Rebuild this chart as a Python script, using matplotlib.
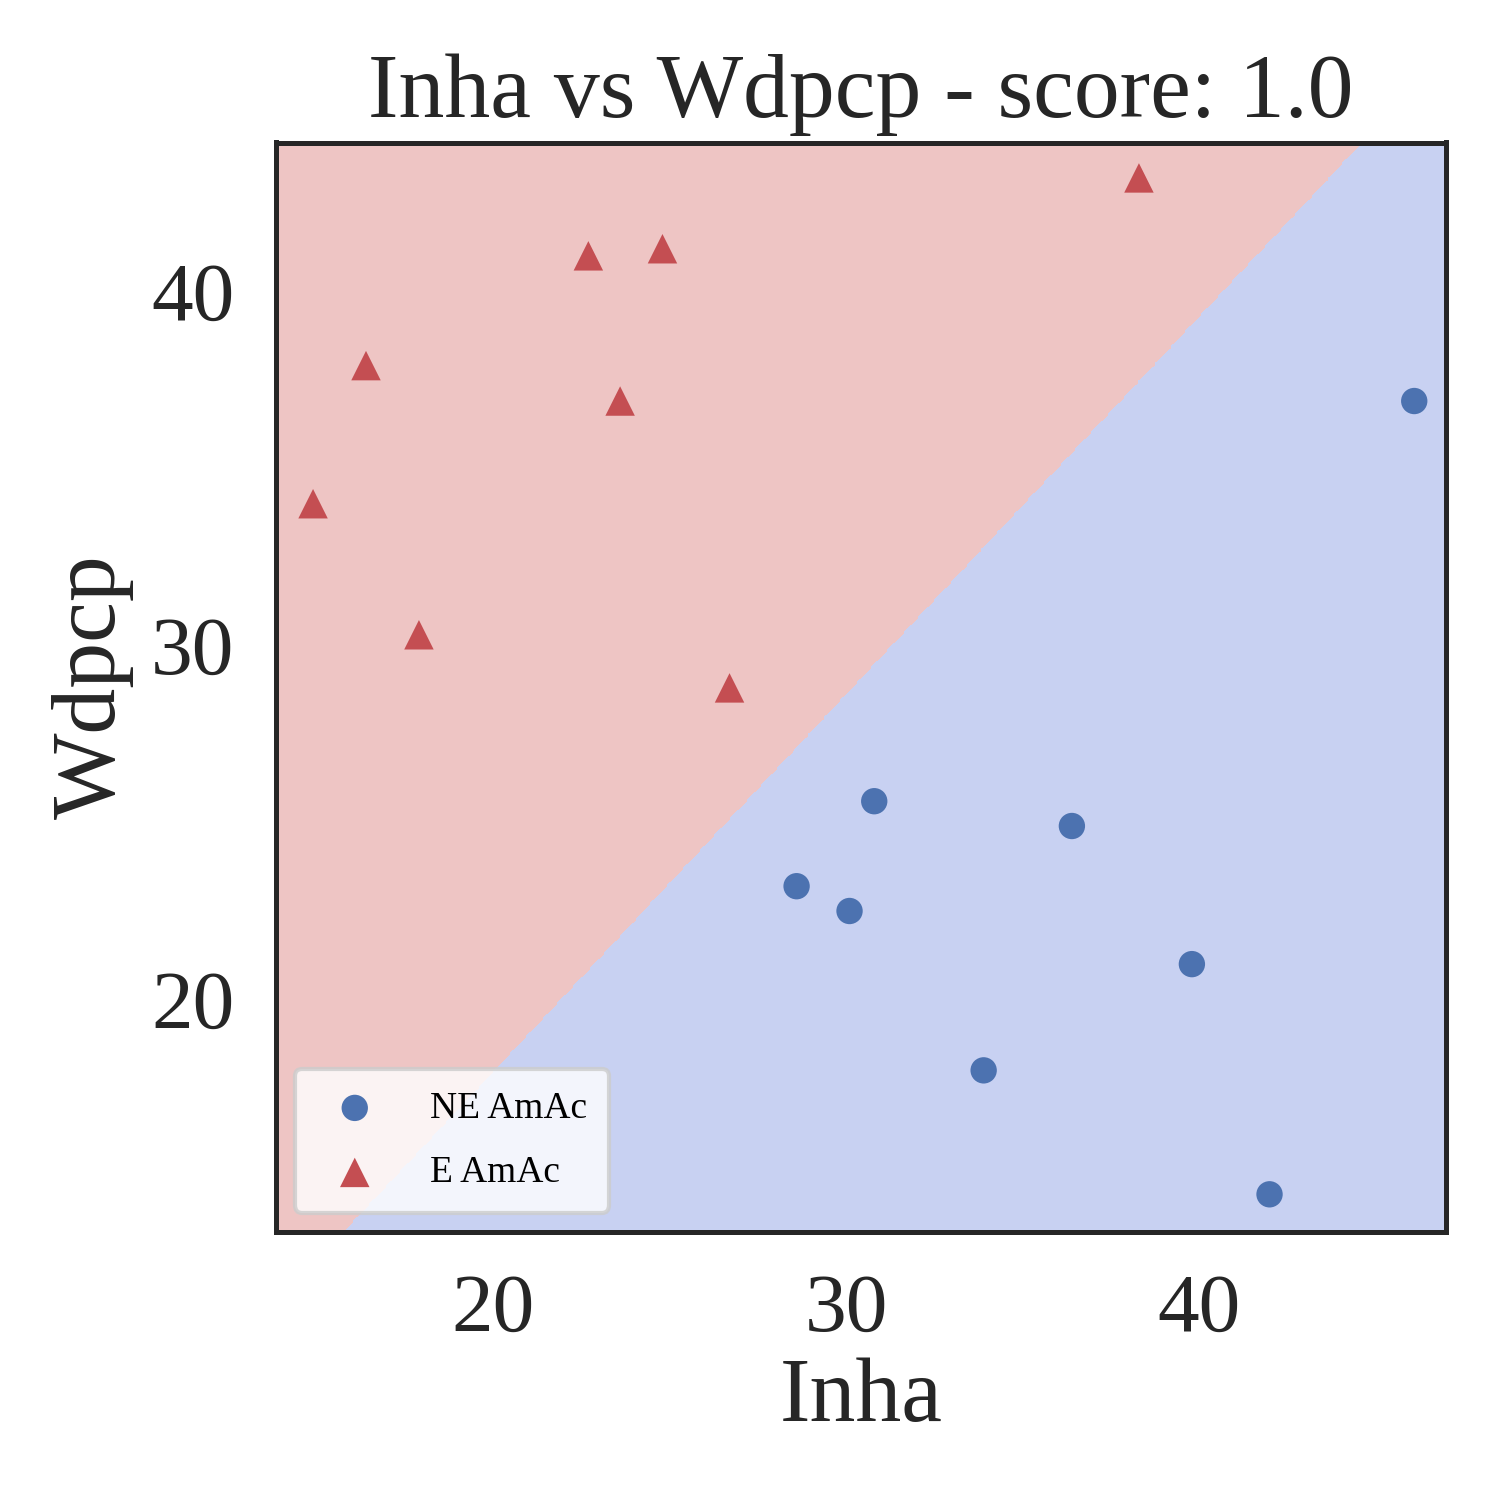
import numpy as np
import matplotlib
matplotlib.use("Agg")
import matplotlib.pyplot as plt

plt.rcParams['font.family'] = ['Liberation Serif', 'DejaVu Serif']

ne_x = [28.6, 30.1, 30.8, 36.4, 39.8, 33.9, 42.0, 46.1]
ne_y = [23.2, 22.5, 25.6, 24.9, 21.0, 18.0, 14.5, 36.9]
e_x = [14.9, 16.4, 17.9, 22.7, 23.6, 24.8, 26.7, 38.3]
e_y = [34.0, 37.9, 30.3, 41.0, 36.9, 41.2, 28.8, 43.2]
# decision boundary y = a*x + b
a = 1.066
b = 13.45 - 1.066 * 15.75
xlim = (13.85, 47.0)
ylim = (13.45, 44.2)

fig, ax = plt.subplots(figsize=(5, 5), dpi=300)
xx, yy = np.meshgrid(np.linspace(*xlim, 500), np.linspace(*ylim, 500))
zz = (yy > a * xx + b).astype(int)
ax.contourf(xx, yy, zz, levels=[-0.5, 0.5, 1.5], colors=['#c8d1f2', '#eec5c4'])
ax.scatter(ne_x, ne_y, c='#4c72b0', marker='o', s=40, label='NE AmAc', zorder=3, edgecolors='none')
ax.scatter(e_x, e_y, c='#c44e52', marker='^', s=50, label='E AmAc', zorder=3, edgecolors='none')
ax.set_xlim(*xlim)
ax.set_ylim(*ylim)
ax.set_xticks([20, 30, 40])
ax.set_yticks([20, 30, 40])
ax.tick_params(labelsize=20, colors='#262626', length=0, pad=10)
for s in ax.spines.values():
    s.set_color('#262626'); s.set_linewidth(1.2)
ax.set_xlabel('Inha', fontsize=22, color='#262626', labelpad=2)
ax.set_ylabel('Wdpcp', fontsize=22, color='#262626')
ax.set_title('Inha vs Wdpcp - score: 1.0', fontsize=22, color='#262626')
ax.legend(loc='lower left', fontsize=9, borderpad=0.6, labelspacing=0.8, handletextpad=1.0)
fig.subplots_adjust(left=0.184, right=0.964, bottom=0.179, top=0.905)
fig.savefig('out.png', dpi=300)
